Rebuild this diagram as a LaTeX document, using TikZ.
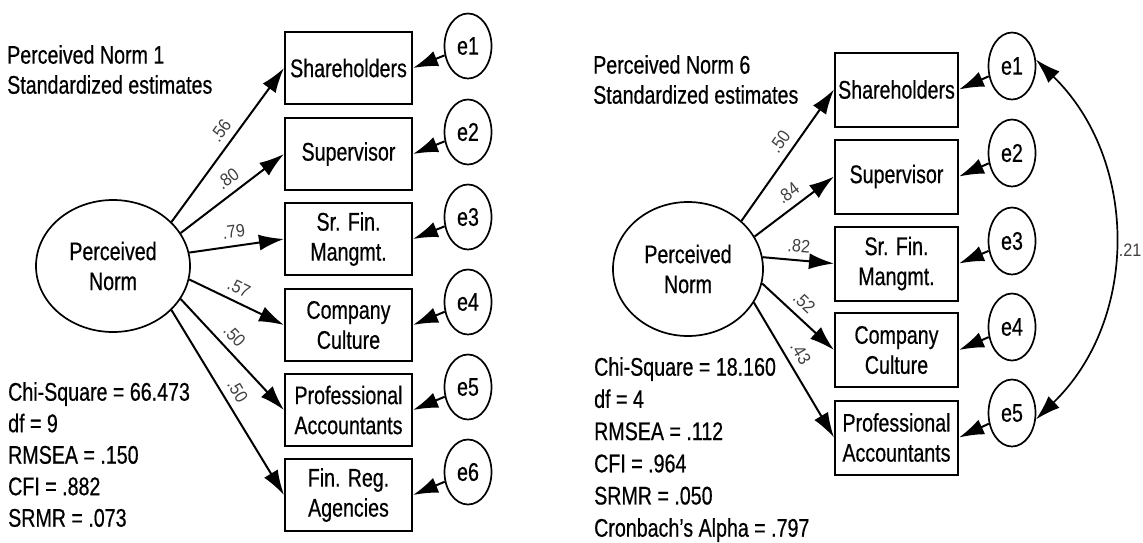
\documentclass[tikz,border=0pt]{standalone}
\usepackage{fontspec}
\setmainfont[FakeStretch=0.77,FakeBold=0.5]{Liberation Sans}
\newfontfamily\lblfont[FakeStretch=0.9]{Liberation Sans}
\usetikzlibrary{shapes.geometric,arrows.meta}

\begin{document}
\begin{tikzpicture}[x=1pt,y=-1pt,
  every node/.style={font=\fontsize{25.5}{30}\selectfont},
  item/.style={draw, line width=2pt, minimum width=127pt, minimum height=72pt, inner sep=0pt, align=center},
  latent/.style={draw, ellipse, line width=1.7pt, inner sep=0pt, align=center},
  err/.style={draw, ellipse, line width=1.7pt, minimum width=47pt, minimum height=65pt, inner sep=0pt},
  load/.style={line width=2pt, -{Latex[length=25pt,width=16pt]}},
  coef/.style={sloped, above=6pt, inner sep=1pt, text=black!75, font=\lblfont\fontsize{18}{18}\selectfont},
  info/.style={anchor=north west, inner sep=0pt, align=left},
]
\useasboundingbox (0,0) rectangle (1143,542);

% ---------- model 1 ----------
\node[info] (t1) at (7,45) {Perceived Norm 1\\Standardized estimates};
\node[info, font=\fontsize{25.5}{31.5}\selectfont] (s1) at (8,382)
  {Chi-Square = 66.473\\df = 9\\RMSEA = .150\\CFI = .882\\SRMR = .073};

\node[latent, minimum width=154pt, minimum height=132pt] (ln) at (113,266) {Perceived\\Norm};

\node[item] (lb1) at (348.5,68)  {Shareholders};
\node[item] (lb2) at (348.5,154) {Supervisor};
\node[item] (lb3) at (348.5,239) {Sr. Fin.\\Mangmt.};
\node[item] (lb4) at (348.5,325) {Company\\Culture};
\node[item] (lb5) at (348.5,410) {Professional\\Accountants};
\node[item] (lb6) at (348.5,495) {Fin. Reg.\\Agencies};

\node[err] (le1) at (468,46)  {e1};
\node[err] (le2) at (468,132) {e2};
\node[err] (le3) at (468,217) {e3};
\node[err] (le4) at (468,302) {e4};
\node[err] (le5) at (468,387) {e5};
\node[err] (le6) at (468,472) {e6};

\draw[load] (ln.37)  -- node[coef, pos=0.54] {.56} (lb1.west);
\draw[load] (ln.26)  -- node[coef, pos=0.54] {.80} (lb2.west);
\draw[load] (ln.10)  -- node[coef, pos=0.49] {.79} (lb3.west);
\draw[load] (ln.-10) -- node[coef, pos=0.46] {.57} (lb4.west);
\draw[load] (ln.-26) -- node[coef, pos=0.42] {.50} (lb5.west);
\draw[load] (ln.-37) -- node[coef, pos=0.48] {.50} (lb6.west);

\foreach \i in {1,...,6} \draw[load] (le\i) -- (lb\i.east);

% ---------- model 6 ----------
\node[info] (t2) at (593,55) {Perceived Norm 6\\Standardized estimates};
\node[info, font=\fontsize{25.5}{32.2}\selectfont] (s2) at (594,357)
  {Chi-Square = 18.160\\df = 4\\RMSEA = .112\\CFI = .964\\SRMR = .050\\Cronbach's Alpha = .797};

\node[latent, minimum width=150pt, minimum height=134pt] (rn) at (688,269) {Perceived\\Norm};

\node[item, minimum width=123pt, minimum height=74pt] (rb1) at (896.5,89.5)  {Shareholders};
\node[item, minimum width=123pt, minimum height=74pt] (rb2) at (896.5,176.5) {Supervisor};
\node[item, minimum width=123pt, minimum height=74pt] (rb3) at (896.5,263.5) {Sr. Fin.\\Mangmt.};
\node[item, minimum width=123pt, minimum height=74pt] (rb4) at (896.5,350)   {Company\\Culture};
\node[item, minimum width=123pt, minimum height=74pt] (rb5) at (896.5,437.5) {Professional\\Accountants};

\node[err, minimum height=67pt] (re1) at (1012,66)  {e1};
\node[err, minimum height=67pt] (re2) at (1012,153) {e2};
\node[err, minimum height=67pt] (re3) at (1012,241) {e3};
\node[err, minimum height=67pt] (re4) at (1012,327) {e4};
\node[err, minimum height=67pt] (re5) at (1012,413) {e5};

\draw[load] (rn.42)  -- node[coef, pos=0.54] {.50} (rb1.west);
\draw[load] (rn.26)  -- node[coef, pos=0.53] {.84} (rb2.west);
\draw[load] (rn.9)   -- node[coef, pos=0.49] {.82} (rb3.west);
\draw[load] (rn.-11) -- node[coef, pos=0.45] {.52} (rb4.west);
\draw[load] (rn.-27) -- node[coef, pos=0.43] {.43} (rb5.west);

\foreach \i in {1,...,5} \draw[load] (re\i) -- (rb\i.east);

% correlated errors e1 <-> e5
\draw[line width=1.7pt, {Latex[length=25pt,width=16pt]}-{Latex[length=25pt,width=16pt]}]
  (re1.15) .. controls (1139,160) and (1139,320) .. (re5.-15);
\node[inner sep=0pt, text=black!75, font=\lblfont\fontsize{18}{18}\selectfont] (cv) at (1130,250) {.21};

\end{tikzpicture}
\end{document}
